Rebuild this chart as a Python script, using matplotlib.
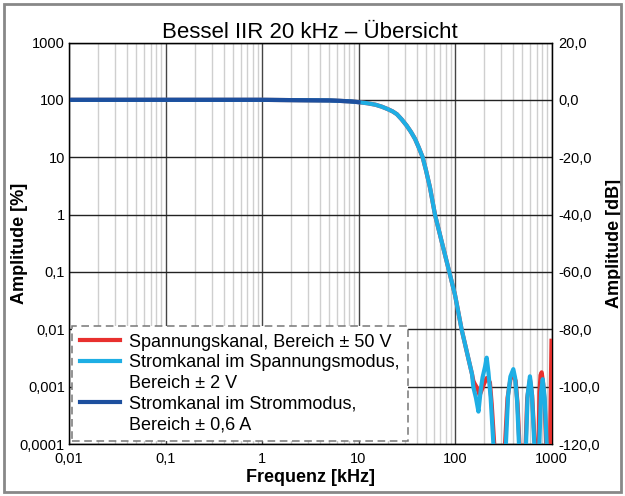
#Frequenzgang Bessel IIR 20 kHz - Übersicht
import numpy as np
import matplotlib.pyplot as plt
from matplotlib.lines import Line2D
from matplotlib.patches import Rectangle

plt.rcParams['font.family'] = ['Liberation Sans', 'DejaVu Sans']

#Gemeinsamer Verlauf (Frequenz in kHz, Amplitude in dB)
freq_common = [0.01, 1, 5, 8, 10, 12.5, 15, 17.5, 20, 22.5, 25, 28, 31.6, 35, 38.5, 42,
               46.2, 50, 55, 62, 73, 87.3, 100, 117, 135, 150]
db_common = [0, 0, -0.2, -0.5, -0.8, -1.2, -1.7, -2.4, -3.2, -4.0, -5.0, -6.8, -9, -11.2, -13.6, -16.5,
             -20, -24.5, -30.5, -40, -49.6, -60, -68, -80, -89, -95.6]

#Rauschbereich Spannungskanal (rot)
freq_red = [155, 160, 170, 180, 190, 200, 213, 230, 240, 255, 280,
            330, 350, 375, 402, 425, 445, 465, 490,
            540, 560, 598, 630, 670, 700,
            735, 750, 770, 791, 820, 850, 880, 920, 960, 1000]
db_red = [-98, -99, -100.5, -103, -101, -99, -97, -98.5, -106, -120, -135,
          -120, -104, -97.5, -95.6, -98, -106, -120, -135,
          -120, -104, -97.5, -103, -120, -135,
          -120, -102, -96, -95, -99, -106, -120, -135, -125, -84]

#Rauschbereich Stromkanal im Spannungsmodus (hellblau)
freq_lblue = [155, 165, 175, 185, 193, 205, 213, 222, 234, 250, 280,
              337, 355, 375, 402, 420, 440, 460, 490,
              545, 565, 598, 625, 664, 700,
              748, 780, 811, 850, 891, 920]
db_lblue = [-100.2, -104, -108.7, -101, -96.8, -93, -89.9, -95, -103.8, -120, -135,
            -120, -103, -96.5, -93.9, -97, -105, -120, -135,
            -120, -103, -96.4, -102, -120, -135,
            -120, -102, -97.4, -104, -120, -135]

#Stromkanal im Strommodus (dunkelblau), nur bis 10 kHz
freq_dblue = [0.01, 1, 5, 8, 10]
db_dblue = [0, 0, -0.2, -0.5, -0.8]

labels = ['Spannungskanal, Bereich ± 50 V',
          'Stromkanal im Spannungsmodus,', 'Bereich ± 2 V',
          'Stromkanal im Strommodus,', 'Bereich ± 0,6 A']

x_ticks = [0.01, 0.1, 1, 10, 100, 1000]
x_ticklabels = ['0,01', '0,1', '1', '10', '100', '1000']
y_ticks = [0.0001, 0.001, 0.01, 0.1, 1, 10, 100, 1000]
y_ticklabels = ['0,0001', '0,001', '0,01', '0,1', '1', '10', '100', '1000']
db_ticks = [-120, -100, -80, -60, -40, -20, 0, 20]

red = '#e8302e'
lblue = '#1eaee4'
dblue = '#1d4f9e'


def to_percent(db):
  return 100 * 10 ** (np.array(db) / 20.0)


fig = plt.figure(figsize=(6.25, 4.96), dpi=100)
ax = fig.add_axes([69/625, 1-444/496, (551.5-69)/625, (444-42.5)/496])

f_red = freq_common + freq_red
f_lb = freq_common + freq_lblue
ax.plot(f_red, to_percent(db_common + db_red), color=red, lw=3, solid_joinstyle='round', zorder=3)
ax.plot(f_lb, to_percent(db_common + db_lblue), color=lblue, lw=3, solid_joinstyle='round', zorder=4)
ax.plot(freq_dblue, to_percent(db_dblue), color=dblue, lw=3, zorder=5)

ax.set_xscale('log')
ax.set_yscale('log')
ax.set_xlim(0.01, 1000)
ax.set_ylim(0.0001, 1000)
ax.set_xticks(x_ticks)
ax.set_xticklabels(x_ticklabels)
ax.set_yticks(y_ticks)
ax.set_yticklabels(y_ticklabels)
ax.minorticks_off()
ax.set_xticks([m * d for d in x_ticks[:-1] for m in range(2, 10)], minor=True)
ax.tick_params(axis='both', which='both', labelsize=10.5, length=0)
ax.tick_params(axis='x', pad=6)
ax.tick_params(axis='y', pad=3)

#Gitter
ax.grid(True, which='minor', axis='x', color='#cfcfcf', lw=1)
ax.grid(True, which='major', axis='x', color='#444444', lw=1)
ax.grid(True, which='major', axis='y', color='#222222', lw=1)
ax.set_axisbelow(True)
for s in ax.spines.values():
  s.set_color('black')
  s.set_linewidth(1)

ax.set_xlabel('Frequenz [kHz]', fontsize=13, fontweight='bold', labelpad=2)
ax.set_ylabel('Amplitude [%]', fontsize=13, fontweight='bold')
ax.yaxis.set_label_coords(-0.085, 0.5)
ax.set_title('Bessel IIR 20 kHz – Übersicht', fontsize=16, pad=3)

#Rechte Achse in dB
ax2 = ax.twinx()
ax2.set_ylim(-120, 20)
ax2.set_yticks(db_ticks)
ax2.set_yticklabels(['{:.1f}'.format(v).replace('.', ',') for v in db_ticks])
ax2.tick_params(axis='y', labelsize=10.5, length=0, pad=5)
ax2.set_ylabel('Amplitude [dB]', fontsize=13, fontweight='bold')
ax2.yaxis.set_label_coords(1.112, 0.5)

#Legende
handles = [Line2D([], [], color=red, lw=3),
           Line2D([], [], color=lblue, lw=3),
           Line2D([], [], color='none'),
           Line2D([], [], color=dblue, lw=3),
           Line2D([], [], color='none')]
leg = ax.legend(handles, labels, loc='lower left', fontsize=13, fancybox=False,
                framealpha=1, edgecolor='#777777', handlelength=2.2,
                handletextpad=0.55, labelspacing=0.2, borderpad=0.45,
                borderaxespad=0.15)
leg.get_frame().set_linestyle((0, (5, 3)))
leg.get_frame().set_linewidth(1.1)
leg.set_zorder(10)

#Rahmen um die Grafik
fig.patches.append(Rectangle((4/625, 4/496), 617/625, 488/496, transform=fig.transFigure,
                             fill=False, edgecolor='#888888', lw=2))

plt.savefig('out.png', dpi=100)
